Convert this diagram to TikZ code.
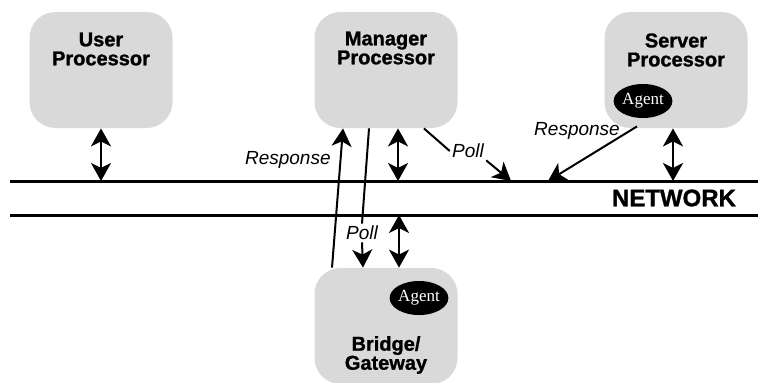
\documentclass[tikz,border=0pt]{standalone}
\usepackage{fontspec}
\setmainfont{Liberation Sans}[BoldFeatures={FakeBold=1.2}]
\newfontfamily\agentfont{Liberation Serif}
\usetikzlibrary{shapes.geometric, arrows.meta}
\tikzstyle{proc} = [rectangle, rounded corners=13pt, minimum width=71.5pt, minimum height=58pt, fill=black!15]
\tikzstyle{title} = [align=center, inner sep=0pt, font=\fontsize{10}{9.5}\selectfont\bfseries]
\tikzstyle{agent} = [ellipse, minimum width=28pt, minimum height=17pt, inner sep=0pt, fill=black, text=white, font=\agentfont\fontsize{8.5}{8.5}\selectfont]
\tikzstyle{lbl} = [font=\fontsize{9.5}{9.5}\selectfont\itshape, inner sep=1pt]
\tikzstyle{net} = [line width=1.5pt]
\tikzstyle{line} = [line width=1pt]
\tikzstyle{arrow} = [line width=1pt, -{Stealth[length=9pt, width=10pt, inset=2.5pt]}]
\tikzstyle{dblarrow} = [line width=1.3pt, {Stealth[length=9pt, width=10pt, inset=2.5pt]}-{Stealth[length=9pt, width=10pt, inset=2.5pt]}]

\begin{document}
\begin{tikzpicture}[x=0.5pt, y=-0.5pt, node distance=142.5pt]
\useasboundingbox (0,0) rectangle (758,382);

%Boxes
\node (user) [proc] at (101,70) {};
\node (manager) [proc, right of=user] {};
\node (server) [proc, right of=manager, xshift=2.5pt] {};
\node (bridge) [proc, below of=manager, yshift=14.5pt] {};
%Texts
\node (usertxt) [title] at ([yshift=10.5pt]user.center) {User\\Processor};
\node (managertxt) [title] at ([yshift=11pt]manager.center) {Manager\\Processor};
\node (servertxt) [title] at ([yshift=10pt]server.center) {Server\\Processor};
\node (bridgetxt) [title] at ([yshift=-14.5pt]bridge.center) {Bridge/\\Gateway};
%Agents
\node (srvagent) [agent] at ([xshift=-16.5pt, yshift=-15.5pt]server.center) {Agent};
\node (brgagent) [agent] at ([xshift=16.5pt, yshift=14pt]bridge.center) {Agent};

%Network
\coordinate (netTL) at (10,181);
\coordinate (netTR) at (758,181);
\coordinate (netBL) at (10,215);
\coordinate (netBR) at (758,215);
\draw [net] (netTL) -- (netTR);
\draw [net] (netBL) -- (netBR);
\node (nettxt) [font=\fontsize{12}{12}\selectfont\bfseries, anchor=east] at (743,198) {NETWORK};

%Labels
\node (resp1) [lbl, anchor=east] at (333,160) {Response};
\node (poll1) [lbl] at (362,233) {Poll};
\node (poll2) [lbl] at (468,151) {Poll};
\node (resp2) [lbl] at (577,131) {Response};
\coordinate (pollhit) at (511,181);
\coordinate (resphit) at (548,181);

%arrows
\draw [dblarrow] (user.south) -- (user.south |- netTL);
\draw [dblarrow] ([xshift=6pt]manager.south) -- ([xshift=6pt]manager.south |- netTL);
\draw [dblarrow] ([xshift=-1.5pt]server.south) -- ([xshift=-1.5pt]server.south |- netTL);
\draw [dblarrow] ([xshift=6.5pt]bridge.north) -- ([xshift=6.5pt]bridge.north |- netBL);
\draw [arrow] ([xshift=-27pt]bridge.north) -- ([xshift=-21.5pt]manager.south);
\draw [line] ([xshift=-8.5pt]manager.south) -- (poll1.north);
\draw [arrow] (poll1.south) -- ([xshift=-11.5pt]bridge.north);
\draw [line] ([xshift=-17pt]manager.south east) -- (poll2.west);
\draw [arrow] (poll2.south east) -- (pollhit);
\draw [arrow] ([xshift=-3pt, yshift=-4pt]srvagent.south) -- (resphit);

\end{tikzpicture}
\end{document}
